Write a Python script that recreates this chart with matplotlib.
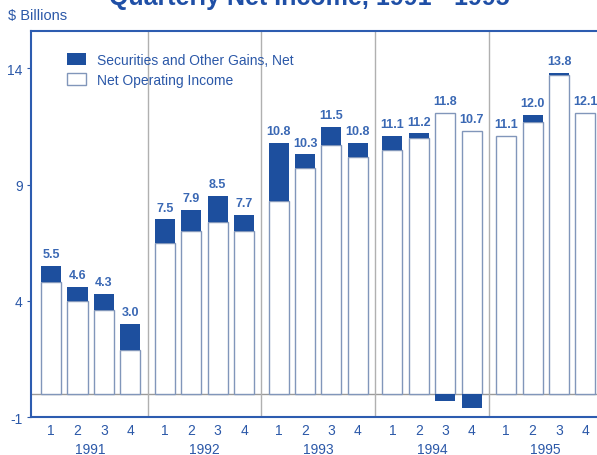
import matplotlib.pyplot as plt
from matplotlib.transforms import blended_transform_factory

plt.rcParams['font.family'] = ['Liberation Sans', 'DejaVu Sans']
plt.rcParams['axes.unicode_minus'] = False

# Data ($ billions)
years = ['1991', '1992', '1993', '1994', '1995']
quarters = ['1', '2', '3', '4']
operating = [4.8, 4.0, 3.6, 1.9, 6.5, 7.0, 7.4, 7.0, 8.3, 9.7,
             10.7, 10.2, 10.5, 11.0, 12.1, 11.3, 11.1, 11.7, 13.7, 12.1]
gains = [0.7, 0.6, 0.7, 1.1, 1.0, 0.9, 1.1, 0.7, 2.5, 0.6,
         0.8, 0.6, 0.6, 0.2, -0.3, -0.6, 0.0, 0.3, 0.1, 0.0]
totals = [5.5, 4.6, 4.3, 3.0, 7.5, 7.9, 8.5, 7.7, 10.8, 10.3,
          11.5, 10.8, 11.1, 11.2, 11.8, 10.7, 11.1, 12.0, 13.8, 12.1]

dark = '#1d4f9e'
txt = '#2b58a8'
step = 4.31  # year spacing in bar units

pos = [q + step * y for y in range(len(years)) for q in range(4)]
bottoms = [o if g >= 0 else 0 for o, g in zip(operating, gains)]

fig = plt.figure(figsize=(5.97, 4.56), dpi=100)
ax = fig.add_axes([0.052, 0.0833, 0.948, 0.846])

# zero line and year dividers
ax.axhline(0, color='#9a9a9a', lw=1, zorder=1)
for y in range(1, len(years)):
    ax.axvline(3 + step * (y - 1) + (step - 3) / 2, color='#b0b0b0', lw=1, zorder=1)

b1 = ax.bar(pos, operating, width=0.76, color='white', edgecolor='#8196ba',
            linewidth=1, zorder=2, label='Net Operating Income')
b2 = ax.bar(pos, gains, width=0.76, bottom=bottoms, color=dark,
            linewidth=0, zorder=3, label='Securities and Other Gains, Net')

for x, o, t in zip(pos, operating, totals):
    ax.text(x, max(o, t) + 0.25, f'{t:.1f}', ha='center', va='bottom',
            fontsize=9, fontweight='bold', color='#3a68b4')

ax.set_xlim(-0.76, 20.68)
ax.set_ylim(-1, 15.6)
ax.set_yticks([-1, 4, 9, 14])
ax.set_xticks(pos)
ax.set_xticklabels(quarters * len(years))
ax.tick_params(axis='x', length=0, pad=4, labelsize=10, labelcolor=txt)
ax.tick_params(axis='y', length=3, color=txt, pad=3, labelsize=10, labelcolor=txt)

trans = blended_transform_factory(ax.transData, ax.transAxes)
for y, yr in enumerate(years):
    ax.text(1.5 + step * y, -0.083, yr, transform=trans, ha='center', va='center',
            fontsize=10, color=txt)

for s in ['left', 'bottom', 'top']:
    ax.spines[s].set_color('#2d5cb0')
    ax.spines[s].set_linewidth(1.5)
ax.spines['right'].set_visible(False)

ax.legend(handles=[b2, b1], loc='upper left', bbox_to_anchor=(0.052, 0.962),
          frameon=False, fontsize=10, handlelength=1.37, handleheight=0.95,
          labelspacing=0.45, handletextpad=0.75, borderpad=0, labelcolor=txt)

fig.text(0.518, 0.989, 'Quarterly Net Income, 1991 - 1995', ha='center', va='baseline',
         fontsize=18, fontweight='bold', color='#1f4fa6')
fig.text(0.014, 0.964, '$ Billions', ha='left', va='center', fontsize=10.5, color=txt)

fig.savefig('out.png', dpi=100)
